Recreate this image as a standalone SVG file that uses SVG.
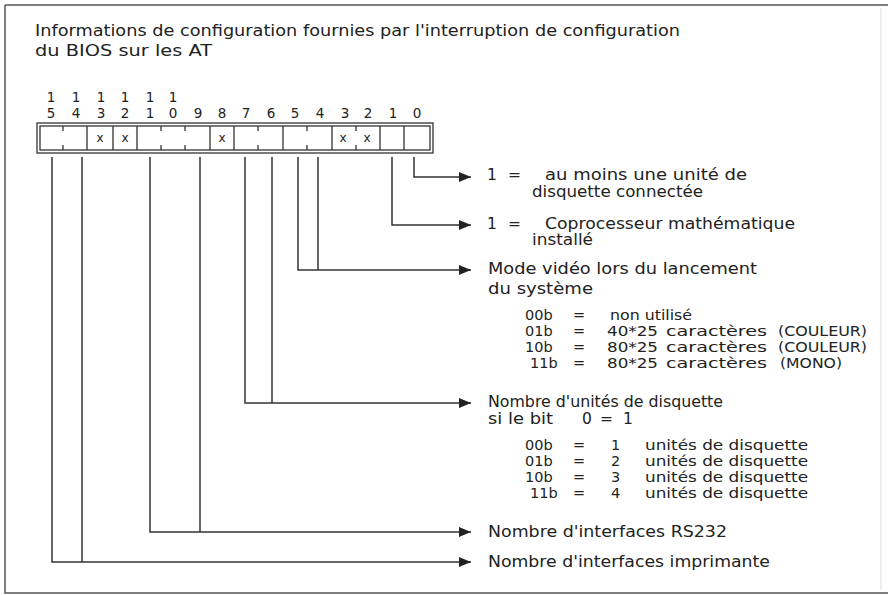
<svg xmlns="http://www.w3.org/2000/svg" width="892" height="595" viewBox="0 0 892 595">
<style>
text{font-family:"DejaVu Sans","Liberation Sans",sans-serif;fill:#222}
.t{font-size:15px}
.b{font-size:15.5px}
.s{font-size:14.5px}
.d{font-size:13.5px;text-anchor:middle}
.x{font-size:12px;text-anchor:middle}
.ln{fill:none;stroke:#333;stroke-width:1.5}
.cell{fill:none;stroke:#333;stroke-width:1.3}
</style>
<defs>
<marker id="ah" markerUnits="userSpaceOnUse" markerWidth="13" markerHeight="11" refX="12" refY="5" orient="auto">
<path d="M0,0 L12,5 L0,10 z" fill="#222"/>
</marker>
</defs>
<rect width="892" height="595" fill="#fff"/>
<g id="frame">
<path d="M5,5 H888 M5,5 V593 H888" fill="none" stroke="#555" stroke-width="1.5"/>
<path d="M881,8 V590" fill="none" stroke="#ddd" stroke-width="1"/>
</g>
<g id="title">
<text class="t" x="35" y="36" textLength="645" lengthAdjust="spacingAndGlyphs">Informations de configuration fournies par l'interruption de configuration</text>
<text class="t" x="35" y="56" textLength="177" lengthAdjust="spacingAndGlyphs">du BIOS sur les AT</text>
</g>
<g id="register">
<g id="bitnumbers">
<text class="d" x="51" y="102">1</text><text class="d" x="76" y="102">1</text><text class="d" x="101" y="102">1</text><text class="d" x="125" y="102">1</text><text class="d" x="150" y="102">1</text><text class="d" x="173" y="102">1</text>
<text class="d" x="51" y="118">5</text><text class="d" x="76" y="118">4</text><text class="d" x="101" y="118">3</text><text class="d" x="125" y="118">2</text><text class="d" x="150" y="118">1</text><text class="d" x="173" y="118">0</text>
<text class="d" x="198" y="118">9</text><text class="d" x="222" y="118">8</text><text class="d" x="246" y="118">7</text><text class="d" x="271" y="118">6</text><text class="d" x="295" y="118">5</text><text class="d" x="320" y="118">4</text>
<text class="d" x="345" y="118">3</text><text class="d" x="368" y="118">2</text><text class="d" x="393" y="118">1</text><text class="d" x="417" y="118">0</text>
</g>
<rect x="37" y="123" width="396" height="30" fill="none" stroke="#333" stroke-width="1.3"/>
<rect x="40" y="126" width="390" height="24" fill="none" stroke="#333" stroke-width="1.3"/>
<path class="cell" d="M87,126 V150 M113,126 V150 M137,126 V150 M210,126 V150 M234,126 V150 M283,126 V150 M332,126 V150 M380,126 V150 M404,126 V150"/>
<path class="cell" d="M63,126 V131 M63,145 V150 M161,126 V131 M161,145 V150 M185,126 V131 M185,145 V150 M258,126 V131 M258,145 V150 M307,126 V131 M307,145 V150 M356,126 V131 M356,145 V150"/>
<text class="x" x="100" y="142">x</text><text class="x" x="125" y="142">x</text><text class="x" x="222" y="142">x</text><text class="x" x="343" y="142">x</text><text class="x" x="367" y="142">x</text>
</g>
<g id="connectors">
<path class="ln" d="M414,157 V177 H471" marker-end="url(#ah)"/>
<path class="ln" d="M392,157 V225 H471" marker-end="url(#ah)"/>
<path class="ln" d="M298,157 V270 H471" marker-end="url(#ah)"/>
<path class="ln" d="M318,157 V270"/>
<path class="ln" d="M245,157 V403 H471" marker-end="url(#ah)"/>
<path class="ln" d="M272,157 V403"/>
<path class="ln" d="M150,157 V532 H471" marker-end="url(#ah)"/>
<path class="ln" d="M200,157 V532"/>
<path class="ln" d="M52,157 V562 H471" marker-end="url(#ah)"/>
<path class="ln" d="M82,157 V562"/>
</g>
<g id="bit0">
<text class="b" x="487" y="180">1</text><text class="b" x="508" y="180">=</text>
<text class="b" x="545" y="180" textLength="202" lengthAdjust="spacingAndGlyphs">au moins une unité de</text>
<text class="b" x="532" y="197" textLength="171" lengthAdjust="spacingAndGlyphs">disquette connectée</text>
</g>
<g id="bit1">
<text class="b" x="487" y="229">1</text><text class="b" x="508" y="229">=</text>
<text class="b" x="545" y="229" textLength="250" lengthAdjust="spacingAndGlyphs">Coprocesseur mathématique</text>
<text class="b" x="532" y="245" textLength="61" lengthAdjust="spacingAndGlyphs">installé</text>
</g>
<g id="bits5-4">
<text class="b" x="488" y="274" textLength="269" lengthAdjust="spacingAndGlyphs">Mode vidéo lors du lancement</text>
<text class="b" x="488" y="294" textLength="105" lengthAdjust="spacingAndGlyphs">du système</text>
<text class="s" x="525" y="320">00b</text><text class="s" x="573" y="320">=</text><text class="s" x="610" y="320" textLength="82" lengthAdjust="spacingAndGlyphs">non utilisé</text>
<text class="s" x="525" y="336">01b</text><text class="s" x="573" y="336">=</text><text class="s" x="607" y="336" textLength="51" lengthAdjust="spacingAndGlyphs">40*25</text><text class="s" x="666" y="336" textLength="101" lengthAdjust="spacingAndGlyphs">caractères</text><text class="s" x="778" y="336" textLength="89" lengthAdjust="spacingAndGlyphs">(COULEUR)</text>
<text class="s" x="525" y="352">10b</text><text class="s" x="573" y="352">=</text><text class="s" x="607" y="352" textLength="51" lengthAdjust="spacingAndGlyphs">80*25</text><text class="s" x="666" y="352" textLength="101" lengthAdjust="spacingAndGlyphs">caractères</text><text class="s" x="778" y="352" textLength="89" lengthAdjust="spacingAndGlyphs">(COULEUR)</text>
<text class="s" x="530" y="368">11b</text><text class="s" x="573" y="368">=</text><text class="s" x="607" y="368" textLength="51" lengthAdjust="spacingAndGlyphs">80*25</text><text class="s" x="666" y="368" textLength="101" lengthAdjust="spacingAndGlyphs">caractères</text><text class="s" x="780" y="368" textLength="62" lengthAdjust="spacingAndGlyphs">(MONO)</text>
</g>
<g id="bits7-6">
<text class="b" x="488" y="407" textLength="235" lengthAdjust="spacingAndGlyphs">Nombre d'unités de disquette</text>
<text class="b" x="488" y="424" textLength="65" lengthAdjust="spacingAndGlyphs">si le bit</text><text class="b" x="582" y="424">0</text><text class="b" x="600" y="424">=</text><text class="b" x="623" y="424">1</text>
<text class="s" x="525" y="450">00b</text><text class="s" x="573" y="450">=</text><text class="s" x="611" y="450">1</text><text class="s" x="645" y="450" textLength="163" lengthAdjust="spacingAndGlyphs">unités de disquette</text>
<text class="s" x="525" y="466">01b</text><text class="s" x="573" y="466">=</text><text class="s" x="611" y="466">2</text><text class="s" x="645" y="466" textLength="163" lengthAdjust="spacingAndGlyphs">unités de disquette</text>
<text class="s" x="525" y="482">10b</text><text class="s" x="573" y="482">=</text><text class="s" x="611" y="482">3</text><text class="s" x="645" y="482" textLength="163" lengthAdjust="spacingAndGlyphs">unités de disquette</text>
<text class="s" x="530" y="498">11b</text><text class="s" x="573" y="498">=</text><text class="s" x="611" y="498">4</text><text class="s" x="645" y="498" textLength="163" lengthAdjust="spacingAndGlyphs">unités de disquette</text>
</g>
<g id="bits11-9">
<text class="b" x="488" y="537" textLength="239" lengthAdjust="spacingAndGlyphs">Nombre d'interfaces RS232</text>
</g>
<g id="bits15-14">
<text class="b" x="488" y="567" textLength="282" lengthAdjust="spacingAndGlyphs">Nombre d'interfaces imprimante</text>
</g>
</svg>
